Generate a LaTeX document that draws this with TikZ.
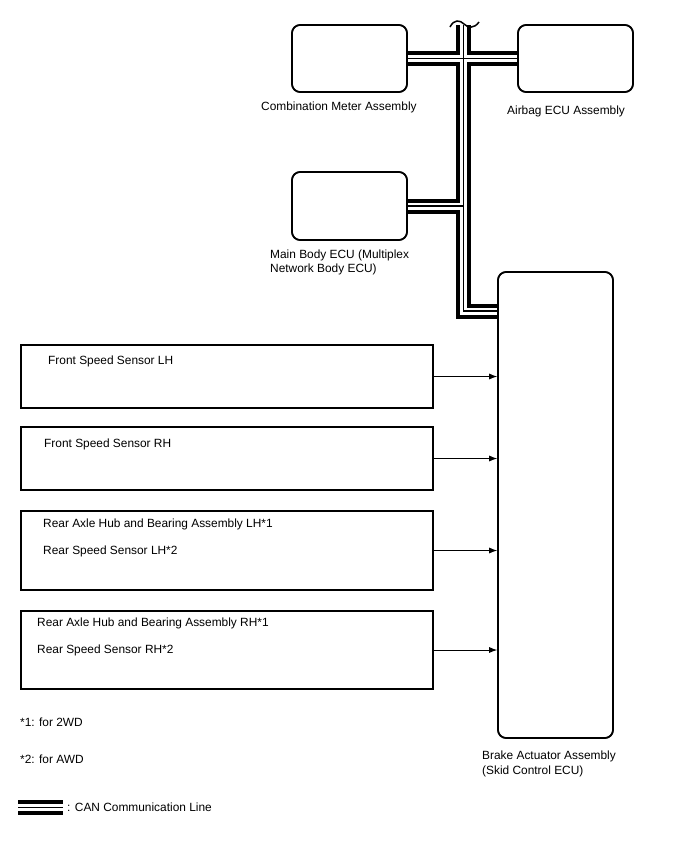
\documentclass[tikz,border=0pt]{standalone}
\usepackage{fontspec}
\setmainfont{Liberation Sans}
\usetikzlibrary{arrows.meta}
\begin{document}
\begin{tikzpicture}[x=1pt,y=-1pt,
  ecubox/.style={draw,line width=1.6pt,rounded corners=8pt,inner sep=0pt,minimum width=115pt},
  sensbox/.style={draw,line width=1.6pt,inner sep=0pt,minimum width=412pt},
  lbl/.style={anchor=base west,inner sep=0pt,font=\fontsize{11.9}{14}\selectfont},
  sig/.style={line width=0.9pt,-{Latex[length=8pt,width=6pt]}},
  canouter/.style={line width=15pt,black,line cap=butt,line join=miter},
  caninner/.style={line width=7pt,white,line cap=butt,line join=miter},
  cancore/.style={line width=1.1pt,black,line cap=butt,line join=miter}]
\useasboundingbox (0,0) rectangle (688,852);
% ECU boxes
\node[ecubox,minimum height=67pt] (cm) at (349.5,58.5) {};
\node[ecubox,minimum height=67pt] (air) at (575.5,58.5) {};
\node[ecubox,minimum height=68pt] (mb) at (349.5,206) {};
\node[ecubox,minimum height=466pt] (brake) at (555.5,505) {};
% sensor boxes
\node[sensbox,minimum height=63pt] (s1) at (227,376.5) {};
\node[sensbox,minimum height=63pt] (s2) at (227,458.5) {};
\node[sensbox,minimum height=79pt] (s3) at (227,550.5) {};
\node[sensbox,minimum height=78pt] (s4) at (227,650) {};
% CAN coordinates
\coordinate (ttop) at (463.5,25);
\coordinate (tbot) at (463.5,311);
\coordinate (legA) at (18,807.5);
\coordinate (legB) at (63,807.5);
\newcommand\canroute[1]{%
  \draw[#1] (cm.east) -- (air.west);
  \draw[#1] (ttop) -- (tbot) -- (tbot -| brake.west);
  \draw[#1] (mb.east) -- (mb.east -| ttop);
  \draw[#1] (legA) -- (legB);}
\canroute{canouter}
\canroute{caninner}
\canroute{cancore}
% redraw box borders on top
\node[ecubox,minimum height=67pt] (cmb) at (349.5,58.5) {};
\node[ecubox,minimum height=67pt] (airb) at (575.5,58.5) {};
\node[ecubox,minimum height=68pt] (mbb) at (349.5,206) {};
\node[ecubox,minimum height=466pt] (brakeb) at (555.5,505) {};
% break mark
\draw[line width=1.5pt] (450,27) .. controls (454,19) and (460,20) .. (464,24) .. controls (468,28) and (474,29) .. (479,22);
% arrows
\draw[sig] (s1.east) -- (s1.east -| brake.west);
\draw[sig] (s2.east) -- (s2.east -| brake.west);
\draw[sig] (s3.east) -- (s3.east -| brake.west);
\draw[sig] (s4.east) -- (s4.east -| brake.west);
% labels
\node[lbl] (tcm) at (261,110) {Combination Meter Assembly};
\node[lbl] (tair) at (507,114) {Airbag ECU Assembly};
\node[lbl] (tmb1) at (270,258) {Main Body ECU (Multiplex};
\node[lbl] (tmb2) at (270,272) {Network Body ECU)};
\node[lbl] (ts1) at (48,364) {Front Speed Sensor LH};
\node[lbl] (ts2) at (44,447) {Front Speed Sensor RH};
\node[lbl] (ts3a) at (43,527) {Rear Axle Hub and Bearing Assembly LH*1};
\node[lbl] (ts3b) at (43,554) {Rear Speed Sensor LH*2};
\node[lbl] (ts4a) at (37,626) {Rear Axle Hub and Bearing Assembly RH*1};
\node[lbl] (ts4b) at (37,653) {Rear Speed Sensor RH*2};
\node[lbl] (n1) at (20,726) {*1: for 2WD};
\node[lbl] (n2) at (20,763) {*2: for AWD};
\node[lbl] (tbr1) at (482,759) {Brake Actuator Assembly};
\node[lbl] (tbr2) at (482,774) {(Skid Control ECU)};
\node[lbl] (tleg) at (67,811) {: CAN Communication Line};
\end{tikzpicture}
\end{document}
